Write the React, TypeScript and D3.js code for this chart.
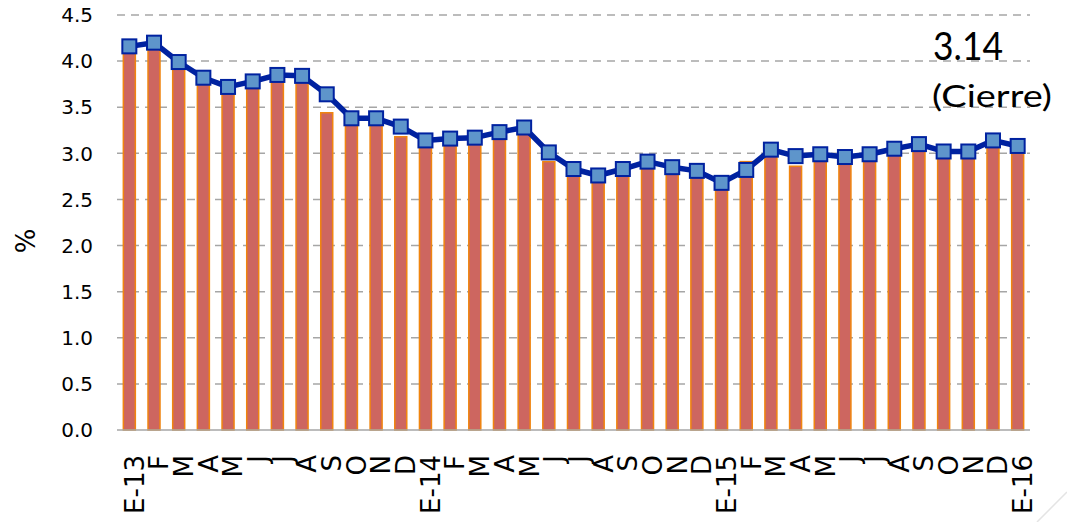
import * as d3 from 'd3';
import * as React from 'react';
import { useEffect, useRef } from 'react';

// month labels, Jan 2013 .. Jan 2016
const categories = [
  'E-13', 'F', 'M', 'A', 'M', 'J', 'J', 'A', 'S', 'O', 'N', 'D',
  'E-14', 'F', 'M', 'A', 'M', 'J', 'J', 'A', 'S', 'O', 'N', 'D',
  'E-15', 'F', 'M', 'A', 'M', 'J', 'J', 'A', 'S', 'O', 'N', 'D',
  'E-16'
];

// bars (monthly value)
const barValues = [
  4.12, 4.14, 3.92, 3.76, 3.65, 3.71, 3.78, 3.77, 3.44, 3.32, 3.33, 3.18,
  3.09, 3.10, 3.11, 3.17, 3.22, 2.91, 2.77, 2.70, 2.77, 2.86, 2.78, 2.75,
  2.62, 2.91, 2.98, 2.86, 2.93, 2.90, 2.93, 3.00, 3.04, 2.96, 2.96, 3.08,
  3.00
];

// line (closing value)
const lineValues = [
  4.16, 4.20, 3.99, 3.82, 3.72, 3.78, 3.85, 3.84, 3.64, 3.38, 3.38, 3.29,
  3.14, 3.16, 3.17, 3.23, 3.28, 3.01, 2.83, 2.76, 2.83, 2.91, 2.85, 2.81,
  2.68, 2.82, 3.04, 2.97, 2.99, 2.96, 2.99, 3.05, 3.10, 3.02, 3.02, 3.14,
  3.08
];

const yTicks = [0, 0.5, 1.0, 1.5, 2.0, 2.5, 3.0, 3.5, 4.0, 4.5];

const AXIS_FONT = '"DejaVu Sans", sans-serif';
const NOTE_FONT = 'Lato, "DejaVu Sans", sans-serif';

export default function App() {
  const ref = useRef<SVGSVGElement>(null);

  useEffect(() => {
    const width = 1067, height = 522;
    const margin = { top: 15, right: 37, bottom: 92, left: 117 };

    const svg = d3.select(ref.current);
    svg.selectAll('*').remove();

    const x = d3.scaleBand()
      .domain(categories.map((c, i) => i + ''))
      .range([margin.left, width - margin.right])
      .paddingInner(0)
      .paddingOuter(0);

    const y = d3.scaleLinear()
      .domain([0, 4.5])
      .range([height - margin.bottom, margin.top]);

    const cx = (i: number) => x(i + '')! + x.bandwidth() / 2;

    // gridlines
    svg.append('g')
      .selectAll('line')
      .data(yTicks.filter(t => t > 0))
      .enter()
      .append('line')
      .attr('x1', margin.left)
      .attr('x2', width - margin.right)
      .attr('y1', d => y(d))
      .attr('y2', d => y(d))
      .attr('stroke', '#a6a6a6')
      .attr('stroke-width', 1.5)
      .attr('stroke-dasharray', '8,6');

    // y tick labels
    svg.append('g')
      .selectAll('text')
      .data(yTicks)
      .enter()
      .append('text')
      .attr('x', 93)
      .attr('y', d => y(d))
      .attr('dy', '0.36em')
      .attr('text-anchor', 'end')
      .style('font-family', AXIS_FONT)
      .style('font-size', '20px')
      .attr('fill', '#000')
      .text(d => d.toFixed(1));

    // y axis title
    svg.append('text')
      .attr('transform', 'translate(35,' + y(2.05) + ') rotate(-90)')
      .attr('text-anchor', 'middle')
      .style('font-family', AXIS_FONT)
      .style('font-size', '26px')
      .text('%');

    // bars
    const barW = 12;
    svg.append('g')
      .selectAll('rect')
      .data(barValues)
      .enter()
      .append('rect')
      .attr('x', (d, i) => cx(i) - barW / 2)
      .attr('y', d => y(d))
      .attr('width', barW)
      .attr('height', d => y(0) - y(d))
      .attr('fill', '#cd6660')
      .attr('stroke', '#f0850f')
      .attr('stroke-width', 1.5);

    // baseline
    svg.append('line')
      .attr('x1', margin.left)
      .attr('x2', width - margin.right)
      .attr('y1', y(0))
      .attr('y2', y(0))
      .attr('stroke', '#a6a6a6')
      .attr('stroke-width', 1.5);

    // line
    const line = d3.line<number>()
      .x((d, i) => cx(i))
      .y(d => y(d));

    svg.append('path')
      .datum(lineValues)
      .attr('d', line)
      .attr('fill', 'none')
      .attr('stroke', '#0022a0')
      .attr('stroke-width', 5.5)
      .attr('stroke-linejoin', 'round');

    const mk = 14;
    svg.append('g')
      .selectAll('rect')
      .data(lineValues)
      .enter()
      .append('rect')
      .attr('x', (d, i) => cx(i) - mk / 2)
      .attr('y', d => y(d) - mk / 2)
      .attr('width', mk)
      .attr('height', mk)
      .attr('fill', '#5e95cb')
      .attr('stroke', '#0022a0')
      .attr('stroke-width', 2);

    // x labels, rotated
    svg.append('g')
      .selectAll('text')
      .data(categories)
      .enter()
      .append('text')
      .attr('transform', (d, i) => 'translate(' + (cx(i) + 5) + ',' + (y(0) + 25) + ') rotate(-90)')
      .attr('text-anchor', 'end')
      .attr('dy', '0.36em')
      .style('font-family', AXIS_FONT)
      .style('font-size', '26px')
      .attr('fill', '#000')
      .text(d => d);

    // closing annotation
    svg.append('text')
      .attr('x', 968)
      .attr('y', 60)
      .attr('text-anchor', 'middle')
      .attr('textLength', 70)
      .attr('lengthAdjust', 'spacingAndGlyphs')
      .style('font-family', NOTE_FONT)
      .style('font-size', '39px')
      .text('3.14');

    svg.append('text')
      .attr('x', 992)
      .attr('y', 107)
      .attr('text-anchor', 'middle')
      .attr('textLength', 120)
      .attr('lengthAdjust', 'spacingAndGlyphs')
      .style('font-family', NOTE_FONT)
      .style('font-size', '31px')
      .text('(Cierre)');

    // faint slide decoration
    svg.append('line')
      .attr('x1', 1037)
      .attr('y1', 522)
      .attr('x2', 1067)
      .attr('y2', 492)
      .attr('stroke', '#e4e4e4')
      .attr('stroke-width', 1.5);
  }, []);

  return (
    <svg ref={ref} width={1067} height={522}
      style={{ position: 'absolute', left: 0, top: 0, background: '#fff' }} />
  );
}
